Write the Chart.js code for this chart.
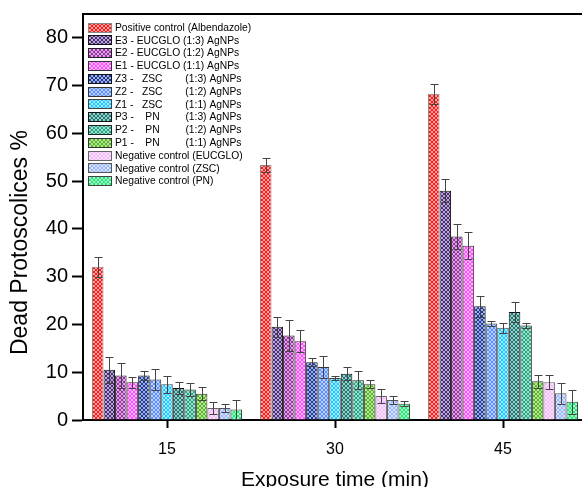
<!DOCTYPE html>
<html><head><meta charset="utf-8">
<script src="https://cdn.jsdelivr.net/npm/chart.js@4/dist/chart.umd.min.js"></script>
<style>html,body{margin:0;padding:0;overflow:hidden;background:#fff;width:582px;height:487px}canvas{display:block}</style>
</head><body><canvas id="c" width="600" height="487"></canvas>
<script>
// ---------- data ----------
const categories = ['15', '30', '45'];
const seriesLabels = [
  'Positive control (Albendazole)',
  'E3 - EUCGLO (1:3) AgNPs',
  'E2 - EUCGLO (1:2) AgNPs',
  'E1 - EUCGLO (1:1) AgNPs',
  'Z3 -   ZSC        (1:3) AgNPs',
  'Z2 -   ZSC        (1:2) AgNPs',
  'Z1 -   ZSC        (1:1) AgNPs',
  'P3 -    PN         (1:3) AgNPs',
  'P2 -    PN         (1:2) AgNPs',
  'P1 -    PN         (1:1) AgNPs',
  'Negative control (EUCGLO)',
  'Negative control (ZSC)',
  'Negative control (PN)'
];
const positiveControl = [32.1, 53.4, 68.3];
const e3Eucglo = [10.5, 19.5, 48.0];
const e2Eucglo = [9.3, 17.7, 38.4];
const e1Eucglo = [7.9, 16.5, 36.5];
const z3Zsc = [9.3, 12.1, 23.8];
const z2Zsc = [8.5, 11.1, 20.2];
const z1Zsc = [7.5, 8.8, 19.3];
const p3Pn = [6.7, 9.7, 22.6];
const p2Pn = [6.4, 8.3, 19.8];
const p1Pn = [5.5, 7.5, 8.1];
const negEucglo = [2.5, 5.0, 7.9];
const negZsc = [2.5, 4.2, 5.6];
const negPn = [2.2, 3.4, 3.8];

const positiveControlErr = [2.1, 1.4, 2.1];
const e3EucgloErr = [2.7, 2.1, 2.4];
const e2EucgloErr = [2.6, 3.2, 2.6];
const e1EucgloErr = [1.1, 2.3, 2.8];
const z3ZscErr = [0.9, 0.8, 2.2];
const z2ZscErr = [2.2, 2.3, 0.5];
const z1ZscErr = [1.8, 0.4, 1.1];
const p3PnErr = [1.3, 1.3, 2.0];
const p2PnErr = [1.3, 1.9, 0.5];
const p1PnErr = [1.4, 0.9, 1.4];
const negEucgloErr = [1.2, 1.4, 1.5];
const negZscErr = [0.8, 0.8, 2.2];
const negPnErr = [1.9, 0.5, 2.5];

const yTicks = [0, 10, 20, 30, 40, 50, 60, 70, 80];

const seriesValues = [positiveControl, e3Eucglo, e2Eucglo, e1Eucglo, z3Zsc, z2Zsc, z1Zsc, p3Pn, p2Pn, p1Pn, negEucglo, negZsc, negPn];
const seriesErrors = [positiveControlErr, e3EucgloErr, e2EucgloErr, e1EucgloErr, z3ZscErr, z2ZscErr, z1ZscErr, p3PnErr, p2PnErr, p1PnErr, negEucgloErr, negZscErr, negPnErr];

// ---------- styles ----------
const seriesColors = ['#FF1A1A','#4B2C7F','#9A2FA8','#FF4DFF','#1C3A9E','#5A8DFF','#1CC8FF','#177A74','#1FA985','#55B821','#F2B8F8','#9AB7FA','#22E878'];
const seriesBorders = ['#888','#111','#222','#333','#111','#333','#444','#111','#222','#333','#666','#555','#444'];
const FONT = 'Arial, "Liberation Sans", sans-serif';

function hatch(color){
  const c = document.createElement('canvas'); c.width = 4; c.height = 4;
  const x = c.getContext('2d');
  x.fillStyle = color; x.fillRect(0,0,4,4);
  x.strokeStyle = 'rgba(255,255,255,0.6)'; x.lineWidth = 1;
  x.beginPath();
  x.moveTo(0,0); x.lineTo(4,4);
  x.moveTo(4,0); x.lineTo(0,4);
  x.stroke();
  return x.createPattern(c, 'repeat');
}

const errorBars = {
  id: 'errorBars',
  afterDatasetsDraw(chart){
    const ctx = chart.ctx, y = chart.scales.y;
    chart.data.datasets.forEach((ds, i) => {
      const meta = chart.getDatasetMeta(i);
      meta.data.forEach((bar, j) => {
        const v = ds.data[j], e = ds.errors[j];
        const top = Math.round(y.getPixelForValue(v + e)) + 0.5;
        const bot = Math.round(y.getPixelForValue(v - e)) + 0.5;
        const cx = Math.round(bar.x) + 0.5;
        const hw = 4;
        ctx.save();
        ctx.strokeStyle = '#444'; ctx.lineWidth = 1;
        ctx.beginPath();
        ctx.moveTo(cx, top); ctx.lineTo(cx, bot);
        ctx.moveTo(cx - hw, top); ctx.lineTo(cx + hw, top);
        ctx.moveTo(cx - hw, bot); ctx.lineTo(cx + hw, bot);
        ctx.stroke();
        ctx.restore();
      });
    });
  }
};

const frame = {
  id: 'frame',
  afterDraw(chart){
    const {ctx, chartArea: a} = chart;
    ctx.save();
    ctx.strokeStyle = '#000'; ctx.lineWidth = 2;
    ctx.beginPath();
    ctx.moveTo(a.left - 1, a.top); ctx.lineTo(a.right, a.top); ctx.lineTo(a.right, a.bottom);
    ctx.stroke();
    ctx.restore();
  }
};

const insideLegend = {
  id: 'insideLegend',
  afterDraw(chart){
    const {ctx, chartArea: a} = chart;
    ctx.save();
    ctx.font = '10.3px ' + FONT;
    ctx.textBaseline = 'middle';
    ctx.textAlign = 'left';
    chart.data.datasets.forEach((ds, i) => {
      const cy = a.top + 13.5 + i * 12.8;
      const bx = a.left + 5, by = Math.round(cy - 5);
      ctx.fillStyle = ds.backgroundColor;
      ctx.fillRect(bx, by, 24, 10);
      ctx.strokeStyle = ds.borderColor; ctx.lineWidth = 1;
      ctx.strokeRect(bx + 0.5, by + 0.5, 23, 9);
      ctx.fillStyle = '#000';
      ctx.fillText(ds.label, bx + 27, cy + 0.5);
    });
    ctx.restore();
  }
};

const datasets = seriesLabels.map((lab, i) => ({
  label: lab,
  data: seriesValues[i],
  errors: seriesErrors[i],
  backgroundColor: hatch(seriesColors[i]),
  borderColor: seriesBorders[i],
  borderWidth: 1,
  barPercentage: 1,
  categoryPercentage: 0.893
}));

new Chart(document.getElementById('c'), {
  type: 'bar',
  data: { labels: categories, datasets },
  plugins: [errorBars, frame, insideLegend],
  options: {
    responsive: false,
    animation: false,
    events: [],
    layout: { padding: { top: 14, right: 13, bottom: 0, left: 0 } },
    plugins: { legend: { display: false }, tooltip: { enabled: false } },
    scales: {
      x: {
        type: 'category',
        offset: true,
        afterFit(s){ s.height = 67; },
        grid: { display: true, drawOnChartArea: false, offset: false, tickLength: 8, tickWidth: 2, tickColor: '#000' },
        border: { display: true, color: '#000', width: 2 },
        ticks: { color: '#000', font: { size: 16, family: FONT }, padding: 12 },
        title: { display: true, text: 'Exposure time (min)', color: '#000', font: { size: 21, family: FONT, lineHeight: 0.62 }, padding: { top: 0, bottom: 0 } }
      },
      y: {
        min: 0, max: 85,
        afterFit(s){ s.width = 83; },
        afterBuildTicks(s){ s.ticks = yTicks.map(v => ({ value: v })); },
        grid: { display: true, drawOnChartArea: false, tickLength: 11, tickWidth: 2, tickColor: '#000' },
        border: { display: true, color: '#000', width: 2 },
        ticks: { color: '#000', font: { size: 20, family: FONT, lineHeight: 1 }, padding: 4 },
        title: { display: true, text: 'Dead Protoscolices %        ', color: '#000', font: { size: 23, family: FONT }, padding: { top: 7, bottom: 0 } }
      }
    }
  }
});
</script>
</body></html>
